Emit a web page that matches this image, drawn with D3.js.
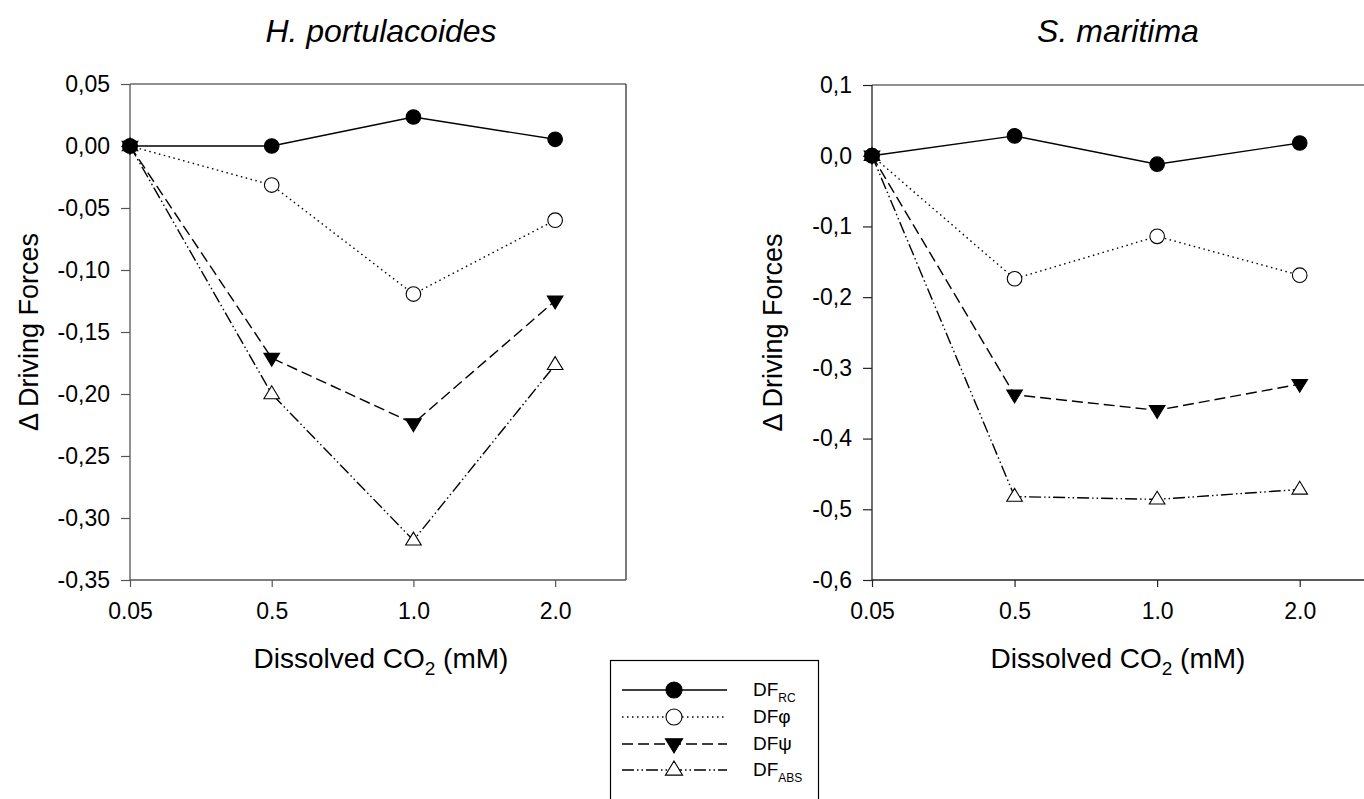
<!DOCTYPE html>
<html><head><meta charset="utf-8">
<script src="https://cdn.jsdelivr.net/npm/d3@7"></script>
<style>body{margin:0;background:#fff}svg{display:block}text{font-family:Arial,"Liberation Sans",sans-serif}</style>
</head><body>
<svg id="c" width="1364" height="799"></svg>
<script>
const categories = ["0.05","0.5","1.0","2.0"];
const hpRC  = [0, 0.000, 0.0234, 0.0054];
const hpPhi = [0, -0.0315, -0.1194, -0.0598];
const hpPsi = [0, -0.171, -0.2237, -0.1248];
const hpAbs = [0, -0.200, -0.318, -0.1765];
const smRC  = [0, 0.028, -0.012, 0.018];
const smPhi = [0, -0.174, -0.114, -0.169];
const smPsi = [0, -0.338, -0.360, -0.323];
const smAbs = [0, -0.482, -0.486, -0.472];
const hpTicks = [0.05,0,-0.05,-0.10,-0.15,-0.20,-0.25,-0.30,-0.35];
const smTicks = [0.1,0,-0.1,-0.2,-0.3,-0.4,-0.5,-0.6];

const svg = d3.select("#c");
const styles = [
  {key:"RC", dash:null, sym:"circle", fill:"#000"},
  {key:"phi", dash:"1.5,3.5", sym:"circle", fill:"#fff"},
  {key:"psi", dash:"11,5", sym:"down", fill:"#000"},
  {key:"abs", dash:"12,3,1.5,3,1.5,3", sym:"up", fill:"#fff"}
];
function marker(g, sym, x, y, fill, k){
  k = k||1;
  if(sym==="circle"){
    g.append("circle").attr("cx",x).attr("cy",y).attr("r",7.3*k).attr("fill",fill).attr("stroke","#000").attr("stroke-width",1.1);
  } else if(sym==="down"){
    const s=7.8*k;
    g.append("path").attr("d",`M${x-s},${y-s*0.6}L${x+s},${y-s*0.6}L${x},${y+s*1.05}Z`).attr("fill",fill).attr("stroke","#000").attr("stroke-width",1.1);
  } else {
    const s=7.8*k;
    g.append("path").attr("d",`M${x-s},${y+s*0.6}L${x+s},${y+s*0.6}L${x},${y-s*1.05}Z`).attr("fill",fill).attr("stroke","#000").attr("stroke-width",1.1);
  }
}
function panel(opt){
  const {x0,x1,y0,y1,dom,ticks,fmt,series,title,cx,axc} = opt;
  const x = d3.scaleLinear().domain([0,3.5]).range([x0,x1]);
  const y = d3.scaleLinear().domain(dom).range([y1,y0]);
  const g = svg.append("g");
  g.append("line").attr("x1",x0).attr("x2",x1).attr("y1",y0).attr("y2",y0).attr("stroke","#222").attr("stroke-width",1.2);
  g.append("line").attr("x1",x1).attr("x2",x1).attr("y1",y0).attr("y2",y1).attr("stroke","#222").attr("stroke-width",1.2);
  const ya = g.append("g").attr("transform",`translate(${x0},0)`)
    .call(d3.axisLeft(y).tickValues(ticks).tickSize(9).tickPadding(11).tickFormat(d=>fmt(d)));
  const xa = g.append("g").attr("transform",`translate(0,${y1})`)
    .call(d3.axisBottom(x).tickValues([0,1,2,3]).tickSize(7).tickPadding(16).tickFormat(i=>categories[i]));
  [ya,xa].forEach(a=>{
    a.select(".domain").attr("stroke",axc).attr("stroke-width",1.3);
    a.selectAll(".tick line").attr("stroke",axc).attr("stroke-width",1.2);
    a.selectAll(".tick text").attr("font-size",23).attr("fill","#000").attr("font-family","Arial, Liberation Sans, sans-serif");
  });
  xa.select(".domain").attr("d",`M${x0},0H${x1}`);
  ya.select(".domain").attr("d",`M0,${y1}V${y0}`);
  series.forEach((vals,si)=>{
    const st = styles[si];
    const line = d3.line().x((d,i)=>x(i)).y(d=>y(d));
    g.append("path").attr("d",line(vals)).attr("fill","none").attr("stroke","#000").attr("stroke-width",1.4)
      .attr("stroke-dasharray",st.dash);
  });
  series.slice().reverse().forEach((vals,ri)=>{
    const st = styles[series.length-1-ri];
    vals.forEach((v,i)=>marker(g,st.sym,x(i),y(v),st.fill));
  });
  svg.append("text").attr("x",cx).attr("y",42).attr("text-anchor","middle").attr("font-size",32).attr("font-style","italic").text(title);
  const xl = svg.append("text").attr("x",cx).attr("y",668).attr("text-anchor","middle").attr("font-size",28);
  xl.append("tspan").text("Dissolved CO");
  xl.append("tspan").attr("font-size",19).attr("dy",7).text("2");
  xl.append("tspan").attr("dy",-7).text(" (mM)");
  svg.append("text").attr("transform",`translate(${opt.ylx},${(y0+y1)/2}) rotate(-90)`).attr("text-anchor","middle").attr("font-size",27).text("\u0394 Driving Forces");
}
const f2 = d=> (d===0?"0,00":d3.format(".2f")(d).replace(".",",").replace("−","-"));
const f1 = d=> (d===0?"0,0":d3.format(".1f")(d).replace(".",",").replace("−","-"));
panel({x0:130,x1:626,y0:84,y1:580,dom:[-0.35,0.05],ticks:hpTicks,fmt:f2,series:[hpRC,hpPhi,hpPsi,hpAbs],title:"H. portulacoides",cx:381,ylx:38,axc:"#555"});
panel({x0:872,x1:1371,y0:85,y1:580,dom:[-0.6,0.1],ticks:smTicks,fmt:f1,series:[smRC,smPhi,smPsi,smAbs],title:"S. maritima",cx:1118,ylx:782,axc:"#222"});

// legend
const leg = svg.append("g");
leg.append("rect").attr("x",610.5).attr("y",660.5).attr("width",208).attr("height",150).attr("fill","#fff").attr("stroke","#000").attr("stroke-width",1.2);
const legLabels = [["DF","RC"],["DF\u03c6",""],["DF\u03c8",""],["DF","ABS"]];
const legY = [690,717,744,770];
styles.forEach((st,i)=>{
  const yy = legY[i];
  leg.append("line").attr("x1",622).attr("x2",727).attr("y1",yy).attr("y2",yy).attr("stroke","#000").attr("stroke-width",1.4).attr("stroke-dasharray",st.dash);
  marker(leg,st.sym,674,yy,st.fill,1.1);
  const t = leg.append("text").attr("x",753).attr("y",yy+6).attr("font-size",19);
  t.append("tspan").text(legLabels[i][0]);
  if(legLabels[i][1]) t.append("tspan").attr("font-size",12).attr("dy",6).text(legLabels[i][1]);
});
</script>
</body></html>
